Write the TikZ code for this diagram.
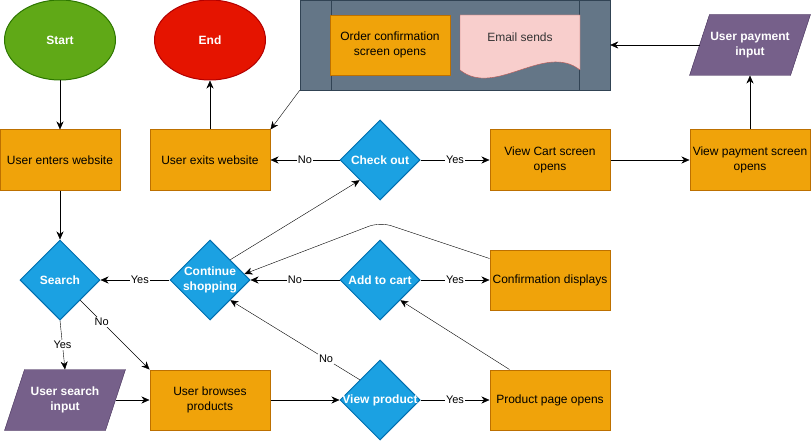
\documentclass[tikz,border=0pt]{standalone}
\usepackage{fontspec}
\setmainfont{Liberation Sans}
\usetikzlibrary{shapes.geometric,arrows.meta,calc}
\definecolor{orfill}{HTML}{F0A30A}
\definecolor{ordraw}{HTML}{BD7000}
\definecolor{blfill}{HTML}{1BA1E2}
\definecolor{bldraw}{HTML}{006EAF}
\definecolor{pufill}{HTML}{76608A}
\definecolor{pudraw}{HTML}{432D57}
\definecolor{grfill}{HTML}{60A917}
\definecolor{grdraw}{HTML}{2D7600}
\definecolor{rdfill}{HTML}{E51400}
\definecolor{rddraw}{HTML}{B20000}
\definecolor{gyfill}{HTML}{647687}
\definecolor{gydraw}{HTML}{314354}
\definecolor{pkfill}{HTML}{F8CECC}
\definecolor{pkdraw}{HTML}{B85450}
\definecolor{emtext}{HTML}{333333}
\pgfdeclarelayer{bg}
\pgfsetlayers{bg,main}
\begin{document}
\begin{tikzpicture}[x=1pt,y=-1pt,line width=1pt,
  every node/.style={font=\fontsize{12}{14.5}\selectfont,align=center},
  procbox/.style={rectangle,draw=ordraw,fill=orfill,minimum width=120pt,minimum height=60pt,inner sep=0pt,text=black},
  decision/.style={diamond,draw=bldraw,fill=blfill,minimum width=80pt,minimum height=80pt,inner sep=0pt,text=white,font=\fontsize{12}{14.5}\selectfont\bfseries},
  terminal/.style={ellipse,minimum width=111pt,minimum height=80pt,inner sep=0pt,text=white,font=\fontsize{12}{14.5}\selectfont\bfseries},
  iobox/.style={rectangle,minimum width=100pt,minimum height=60pt,inner sep=0pt,text=white,font=\fontsize{12}{14.5}\selectfont\bfseries},
  iofill/.style={draw=pudraw,fill=pufill},
  arr/.style={-{Stealth[length=8pt,width=7pt,inset=2.5pt]}},
  lbl/.style={fill=white,inner sep=1pt,font=\fontsize{11}{13}\selectfont,text=black}
]
\useasboundingbox (0,0) rectangle (811,441);

% terminals
\node[terminal,draw=grdraw,fill=grfill] (start) at (60,40) {Start};
\node[terminal,draw=rddraw,fill=rdfill] (end) at (210,40) {End};

% process boxes
\node[procbox] (uew) at (60,160) {User enters website};
\node[procbox] (uxw) at (210,160) {User exits website};
\node[procbox] (vc) at (550,160) {View Cart screen\\opens};
\node[procbox] (vps) at (750,160) {View payment screen\\opens};
\node[procbox] (cd) at (550,280) {Confirmation displays};
\node[procbox] (ubp) at (210,400) {User browses\\products};
\node[procbox] (ppo) at (550,400) {Product page opens};

% decisions
\node[decision] (co) at (380,160) {\makebox[0pt]{Check out}};
\node[decision] (search) at (60,280) {\makebox[0pt]{Search}};
\node[decision] (cs) at (210,280) {\makebox[0pt]{Continue}\\\makebox[0pt]{shopping}};
\node[decision] (atc) at (380,280) {\makebox[0pt]{Add to cart}};
\node[decision] (vpr) at (380,400) {\makebox[0pt]{View product}};

% input / output
\node[iobox] (upi) at (750,45) {User payment\\input};
\node[iobox] (usi) at (65,400) {User search\\input};

% container with order confirmation and e-mail
\begin{pgfonlayer}{bg}
\node[rectangle,draw=gydraw,fill=gyfill,minimum width=310pt,minimum height=90pt,inner sep=0pt] (cont) at (455,45) {};
\draw[gydraw] ([xshift=31pt]cont.north west) -- ([xshift=31pt]cont.south west);
\draw[gydraw] ([xshift=-31pt]cont.north east) -- ([xshift=-31pt]cont.south east);
\draw[draw=pkdraw,fill=pkfill] (460,15) -- (580,15) -- (580,70)
  .. controls (545,42) and (495,98) .. (460,70) -- cycle;
\draw[iofill] ([xshift=-10pt]upi.south west) -- ([xshift=10pt]upi.north west)
  -- ([xshift=10pt]upi.north east) -- ([xshift=-10pt]upi.south east) -- cycle;
\draw[iofill] ([xshift=-10pt]usi.south west) -- ([xshift=10pt]usi.north west)
  -- ([xshift=10pt]usi.north east) -- ([xshift=-10pt]usi.south east) -- cycle;
\end{pgfonlayer}
\node[procbox] (oc) at (390,45) {Order confirmation\\screen opens};
\node[text=emtext] (em) at (520,37) {Email sends};

% connectors
\draw[arr] (start.south) -- (start.south |- uew.north);
\draw[arr] (uew) -- (search);
\draw[arr] (uxw) -- (end);
\draw[arr] (co) -- node[lbl]{No} (uxw);
\draw[arr] (co) -- node[lbl]{Yes} (vc);
\draw[arr] (vc) -- (vps);
\draw[arr] (vps) -- (upi);
\draw[arr] (upi.west) -- (cont.east);
\draw[arr] (cont.south west) -- (uxw.north east);
\draw[arr] (cs) -- node[lbl,pos=0.43]{Yes} (search);
\draw[arr] (atc) -- node[lbl]{No} (cs);
\draw[arr] (atc) -- node[lbl]{Yes} (cd);
\draw[arr] (search.south) -- node[lbl]{Yes} (usi.north);
\draw[arr] (search.south east) -- node[lbl,pos=0.31]{No} (ubp.north west);
\draw[arr] (usi.east) -- (ubp.west);
\draw[arr] (ubp) -- (vpr);
\draw[arr] (vpr) -- node[lbl]{Yes} (ppo);
\draw[arr] (vpr.north west) -- node[lbl,pos=0.26]{No} (cs.south east);
\draw[arr] ([xshift=20pt]ppo.north west) -- (atc.south east);
\draw[arr] (cs.north east) -- (co.south west);
\coordinate (bend) at (380,222);
\draw[arr,rounded corners=12pt] ([yshift=-9pt]cd.north west) -- (bend) -- ($(cs.east)!0.15!(cs.north)$);
\end{tikzpicture}
\end{document}
